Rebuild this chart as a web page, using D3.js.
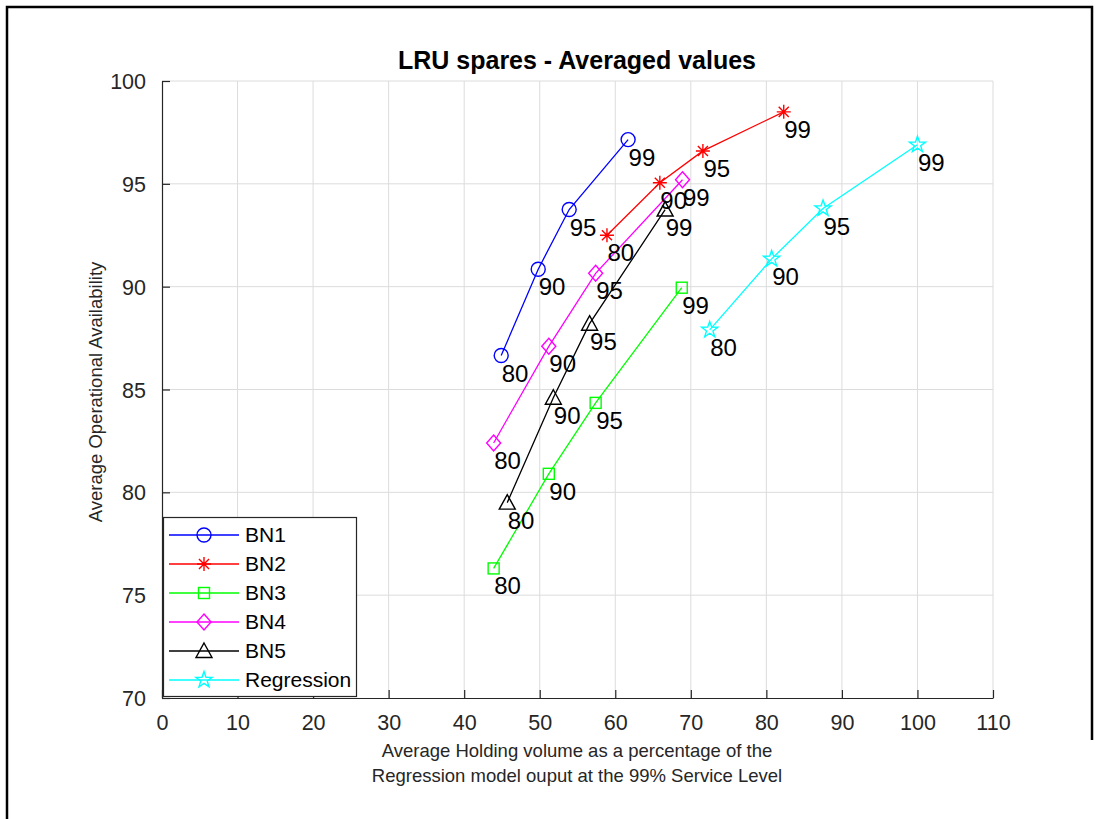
<!DOCTYPE html>
<html>
<head>
<meta charset="utf-8">
<script src="https://cdn.jsdelivr.net/npm/d3@7"></script>
<style>
  html, body { margin: 0; padding: 0; background: #fff; }
  svg { display: block; font-family: "Liberation Sans", Arial, sans-serif; }
</style>
</head>
<body>
<svg id="chart" width="1105" height="819"></svg>
<script>
// ---- data ----
const serviceLevels = ["80", "90", "95", "99"];
const seriesNames = ["BN1", "BN2", "BN3", "BN4", "BN5", "Regression"];
const bn1X = [44.9, 49.8, 53.9, 61.7];
const bn1Y = [86.65, 90.85, 93.75, 97.15];
const bn2X = [58.9, 65.9, 71.6, 82.3];
const bn2Y = [92.5, 95.05, 96.6, 98.5];
const bn3X = [43.9, 51.2, 57.4, 68.8];
const bn3Y = [76.3, 80.9, 84.35, 89.95];
const bn4X = [43.9, 51.2, 57.4, 68.9];
const bn4Y = [82.4, 87.1, 90.65, 95.2];
const bn5X = [45.7, 51.8, 56.6, 66.6];
const bn5Y = [79.5, 84.6, 88.2, 93.75];
const regX = [72.5, 80.7, 87.5, 100.0];
const regY = [87.9, 91.35, 93.8, 96.9];
const xTicks = [0, 10, 20, 30, 40, 50, 60, 70, 80, 90, 100, 110];
const yTicks = [70, 75, 80, 85, 90, 95, 100];

const colors = ["#0000ff", "#ff0000", "#00ff00", "#ff00ff", "#000000", "#00ffff"];
const markers = ["circle", "asterisk", "square", "diamond", "triangle", "pentagram"];
const allX = [bn1X, bn2X, bn3X, bn4X, bn5X, regX];
const allY = [bn1Y, bn2Y, bn3Y, bn4Y, bn5Y, regY];
const series = seriesNames.map((n, i) => ({
  name: n, color: colors[i], marker: markers[i],
  pts: allX[i].map((x, j) => ({x, y: allY[i][j], label: serviceLevels[j]}))
}));

// ---- layout ----
const svg = d3.select("#chart");
const L = 162, R = 993, T = 81, B = 698;
const x = d3.scaleLinear().domain([0, 110]).range([L, R]);
const y = d3.scaleLinear().domain([70, 100]).range([B, T]);

svg.append("rect").attr("width", 1105).attr("height", 819).attr("fill", "#fff");

// outer figure frame (partial)
svg.append("path").attr("d", "M7,819 L7,7 L1092,7 L1092,740")
  .attr("fill", "none").attr("stroke", "#000").attr("stroke-width", 2.5);

// gridlines
const grid = svg.append("g");
grid.selectAll("line.gx").data(xTicks.filter(t => t > 0)).enter().append("line")
  .attr("x1", d => x(d)).attr("x2", d => x(d)).attr("y1", T).attr("y2", B)
  .attr("stroke", "#dcdcdc").attr("stroke-width", 1);
grid.selectAll("line.gy").data(yTicks.filter(t => t > 70)).enter().append("line")
  .attr("x1", L).attr("x2", R).attr("y1", d => y(d)).attr("y2", d => y(d))
  .attr("stroke", "#dcdcdc").attr("stroke-width", 1);

// axes
const xAxis = d3.axisBottom(x).tickValues(xTicks).tickSizeInner(-8).tickSizeOuter(0).tickPadding(17);
const yAxis = d3.axisLeft(y).tickValues(yTicks).tickSizeInner(-8).tickSizeOuter(0).tickPadding(16);
const gx = svg.append("g").attr("transform", `translate(0,${B})`).call(xAxis);
const gy = svg.append("g").attr("transform", `translate(${L},0)`).call(yAxis);
[gx, gy].forEach(g => {
  g.select(".domain").attr("stroke", "#262626").attr("stroke-width", 1.2);
  g.selectAll(".tick line").attr("stroke", "#262626").attr("stroke-width", 1.2);
  g.selectAll(".tick text").attr("fill", "#262626").attr("font-size", 21.5)
    .attr("font-family", "'Liberation Sans', Arial, sans-serif");
});
gx.selectAll(".tick text").attr("dy", "0.71em");
gy.selectAll(".tick text").attr("dy", "0.35em");

// marker drawing
function drawMarker(g, type, cx, cy, color) {
  const s = g.append("g").attr("transform", `translate(${cx},${cy})`)
    .attr("fill", "none").attr("stroke", color).attr("stroke-width", 1.4);
  if (type === "circle") {
    s.append("circle").attr("r", 7);
  } else if (type === "asterisk") {
    const r = 7, d = r * 0.72;
    s.append("path").attr("d", `M${-r},0L${r},0M0,${-r}L0,${r}M${-d},${-d}L${d},${d}M${-d},${d}L${d},${-d}`);
  } else if (type === "square") {
    s.append("rect").attr("x", -5.5).attr("y", -5.5).attr("width", 11).attr("height", 11);
  } else if (type === "diamond") {
    s.append("path").attr("d", "M0,-8L7,0L0,8L-7,0Z");
  } else if (type === "triangle") {
    s.append("path").attr("d", "M0,-8L8,6.5L-8,6.5Z");
  } else if (type === "pentagram") {
    const pts = [];
    for (let k = 0; k < 10; k++) {
      const r = k % 2 === 0 ? 8.5 : 3.4;
      const a = -Math.PI / 2 + k * Math.PI / 5;
      pts.push([r * Math.cos(a), r * Math.sin(a)]);
    }
    s.append("path").attr("d", "M" + pts.map(p => p.join(",")).join("L") + "Z");
  }
}

// series lines + markers
const line = d3.line().x(d => x(d.x)).y(d => y(d.y));
const plot = svg.append("g");
series.forEach(se => {
  plot.append("path").datum(se.pts).attr("d", line)
    .attr("fill", "none").attr("stroke", se.color).attr("stroke-width", 1.3);
  se.pts.forEach(p => drawMarker(plot, se.marker, x(p.x), y(p.y), se.color));
});
// point labels
series.forEach(se => {
  plot.selectAll(null).data(se.pts).enter().append("text")
    .attr("x", d => x(d.x) + 0.5).attr("y", d => y(d.y) + 26)
    .attr("font-size", 24).attr("fill", "#000").text(d => d.label);
});

// title
svg.append("text").attr("x", 577).attr("y", 69).attr("text-anchor", "middle")
  .attr("font-size", 25).attr("font-weight", "bold").attr("fill", "#000")
  .text("LRU spares - Averaged values");

// axis labels
svg.append("text").attr("x", 577).attr("y", 757).attr("text-anchor", "middle")
  .attr("font-size", 18.5).attr("fill", "#262626")
  .text("Average Holding volume as a percentage of the");
svg.append("text").attr("x", 577).attr("y", 782).attr("text-anchor", "middle")
  .attr("font-size", 18.5).attr("fill", "#262626")
  .text("Regression model ouput at the 99% Service Level");
svg.append("text").attr("transform", "translate(102,392) rotate(-90)")
  .attr("text-anchor", "middle").attr("font-size", 18.5).attr("fill", "#262626")
  .text("Average Operational Availability");

// legend
const lg = svg.append("g");
lg.append("rect").attr("x", 163.5).attr("y", 517.5).attr("width", 193).attr("height", 179)
  .attr("fill", "#fff").attr("stroke", "#262626").attr("stroke-width", 1.2);
series.forEach((se, i) => {
  const cy = 535 + i * 29;
  lg.append("line").attr("x1", 169).attr("x2", 239).attr("y1", cy).attr("y2", cy)
    .attr("stroke", se.color).attr("stroke-width", 1.3);
  drawMarker(lg, se.marker, 204, cy, se.color);
  lg.append("text").attr("x", 245).attr("y", cy).attr("dy", "0.35em")
    .attr("font-size", 21).attr("fill", "#000").text(se.name);
});
</script>
</body>
</html>
